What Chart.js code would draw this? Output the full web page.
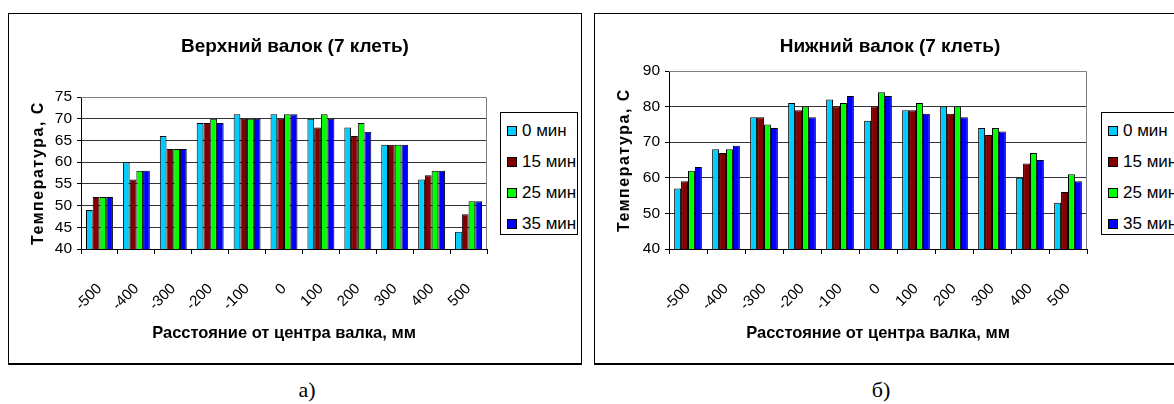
<!DOCTYPE html>
<html>
<head>
<meta charset="utf-8">
<script src="https://cdn.jsdelivr.net/npm/chart.js@4.4.1/dist/chart.umd.min.js"></script>
<style>
  body { margin: 0; width: 1174px; height: 404px; overflow: hidden; background: #fff; position: relative;
         font-family: "Liberation Sans", Arial, sans-serif; }
  .frame { position: absolute; top: 13px; height: 349px; border: 1px solid #000; border-bottom-width: 2px;
           background: #fff; overflow: hidden; }
  .frame canvas { position: absolute; left: 0; top: 0; }
  .title { position: absolute; left: 0; right: 0; top: 22px; text-align: center; font-weight: bold;
           font-size: 19px; line-height: 20px; color: #000; }
  .legend { position: absolute; top: 98px; border: 1px solid #000; background: #fff; padding-top: 2px;
            box-sizing: border-box; height: 123px; width: 78px; }
  .legend div { height: 31px; line-height: 31px; font-size: 17px; white-space: nowrap; color: #000; }
  .legend span { display: inline-block; width: 8px; height: 8px; border: 1px solid #000;
                 margin: 0 5px 0 6px; vertical-align: 0px; }
  .caption { position: absolute; top: 377px; font-family: "Liberation Serif", "Times New Roman", serif;
             font-size: 22px; width: 60px; text-align: center; }
</style>
</head>
<body>
<div class="frame" id="frameA" style="left:8px;width:572px">
  <canvas id="chartA" width="572" height="349"></canvas>
  <div class="title">Верхний валок (7 клеть)</div>
  <div class="legend" id="legendA" style="left:491px"></div>
</div>
<div class="frame" id="frameB" style="left:594px;width:590px">
  <canvas id="chartB" width="590" height="349"></canvas>
  <div class="title">Нижний валок (7 клеть)</div>
  <div class="legend" id="legendB" style="left:506px"></div>
</div>
<div class="caption" style="left:277px">а)</div>
<div class="caption" style="left:851px">б)</div>

<script>
// Data
const categories = ['-500', '-400', '-300', '-200', '-100', '0', '100', '200', '300', '400', '500'];
const seriesLabels = ['0 мин', '15 мин', '25 мин', '35 мин'];
const seriesColors = ['#00CCFF', '#800000', '#00FF00', '#0000FF'];

// Верхний валок
const upper0 = [49, 60, 66, 69, 71, 71, 70, 68, 64, 56, 44];
const upper15 = [52, 56, 63, 69, 70, 70, 68, 66, 64, 57, 48];
const upper25 = [52, 58, 63, 70, 70, 71, 71, 69, 64, 58, 51];
const upper35 = [52, 58, 63, 69, 70, 71, 70, 67, 64, 58, 51];

// Нижний валок
const lower0 = [57, 68, 77, 81, 82, 76, 79, 80, 74, 60, 53];
const lower15 = [59, 67, 77, 79, 80, 80, 79, 78, 72, 64, 56];
const lower25 = [62, 68, 75, 80, 81, 84, 81, 80, 74, 67, 61];
const lower35 = [63, 69, 74, 77, 83, 83, 78, 77, 73, 65, 59];

// Axis ranges: min, max, step
const upperY = [40, 75, 5];
const lowerY = [40, 90, 10];

const Y_TITLE = 'Температура, С';
const X_TITLE = 'Расстояние от центра валка, мм';
const FONT = '"Liberation Sans", Arial, sans-serif';

// Gray top/right edges of the plot area + spaced y title
const framePlugin = {
  id: 'frameEdges',
  beforeDatasetsDraw(chart) {
    const { ctx, chartArea: a } = chart;
    ctx.save();
    ctx.strokeStyle = '#808080';
    ctx.lineWidth = 1;
    ctx.beginPath();
    ctx.moveTo(a.left, a.top + 0.5);
    ctx.lineTo(a.right - 0.5, a.top + 0.5);
    ctx.lineTo(a.right - 0.5, a.bottom);
    ctx.stroke();
    ctx.restore();
  },
  afterDraw(chart) {
    const { ctx, chartArea: a } = chart;
    ctx.save();
    ctx.translate(30, (a.top + a.bottom) / 2);
    ctx.rotate(-Math.PI / 2);
    ctx.font = 'bold 16px ' + FONT;
    ctx.letterSpacing = '1.5px';
    ctx.fillStyle = '#000';
    ctx.textAlign = 'center';
    ctx.textBaseline = 'middle';
    ctx.fillText(Y_TITLE, 0, 0);
    ctx.restore();
  }
};

const buildLegend = (id) => {
  const el = document.getElementById(id);
  el.innerHTML = seriesLabels
    .map((l, i) => `<div><span style="background:${seriesColors[i]}"></span>${l}</div>`)
    .join('');
};

const createChart = (id, series, yRange, box) => {
  const canvas = document.getElementById(id);
  const W = canvas.width, H = canvas.height;
  const [yMin, yMax, yStep] = yRange;

  return new Chart(canvas, {
    type: 'bar',
    data: {
      labels: categories,
      datasets: series.map((d, i) => ({
        label: seriesLabels[i],
        data: d,
        backgroundColor: seriesColors[i],
        borderColor: '#000',
        borderWidth: 1,
        categoryPercentage: 0.73,
        barPercentage: 1.0
      }))
    },
    options: {
      responsive: false,
      animation: false,
      layout: { padding: { left: 0, top: box.top, right: W - box.right, bottom: 0 } },
      plugins: { legend: { display: false }, title: { display: false }, tooltip: { enabled: false } },
      scales: {
        x: {
          afterFit: (s) => { s.height = H - box.bottom; },
          grid: { offset: true, drawOnChartArea: false, drawTicks: true, tickLength: 5, color: '#000' },
          border: { color: '#000', width: 1 },
          ticks: { color: '#000', font: { family: FONT, size: 15 }, minRotation: 45, maxRotation: 45, padding: 26 },
          title: { display: true, text: X_TITLE, color: '#000', font: { family: FONT, size: 16.5, weight: 'bold' },
                   padding: { top: 0, bottom: 20 } }
        },
        y: {
          min: yMin,
          max: yMax,
          afterFit: (s) => { s.width = box.left; },
          grid: {
            color: (c) => (c.tick && c.tick.value === yMax ? 'rgba(0,0,0,0)' : '#333'),
            tickColor: '#000',
            tickLength: 4
          },
          border: { color: '#000', width: 1 },
          ticks: { stepSize: yStep, color: '#000', font: { family: FONT, size: 15.5 }, padding: 5 }
        }
      }
    },
    plugins: [framePlugin]
  });
};

document.addEventListener('DOMContentLoaded', () => {
  buildLegend('legendA');
  buildLegend('legendB');
  createChart('chartA', [upper0, upper15, upper25, upper35], upperY, { left: 72, right: 478, top: 83, bottom: 235 });
  createChart('chartB', [lower0, lower15, lower25, lower35], lowerY, { left: 74, right: 492, top: 57, bottom: 235 });
});
</script>
</body>
</html>
